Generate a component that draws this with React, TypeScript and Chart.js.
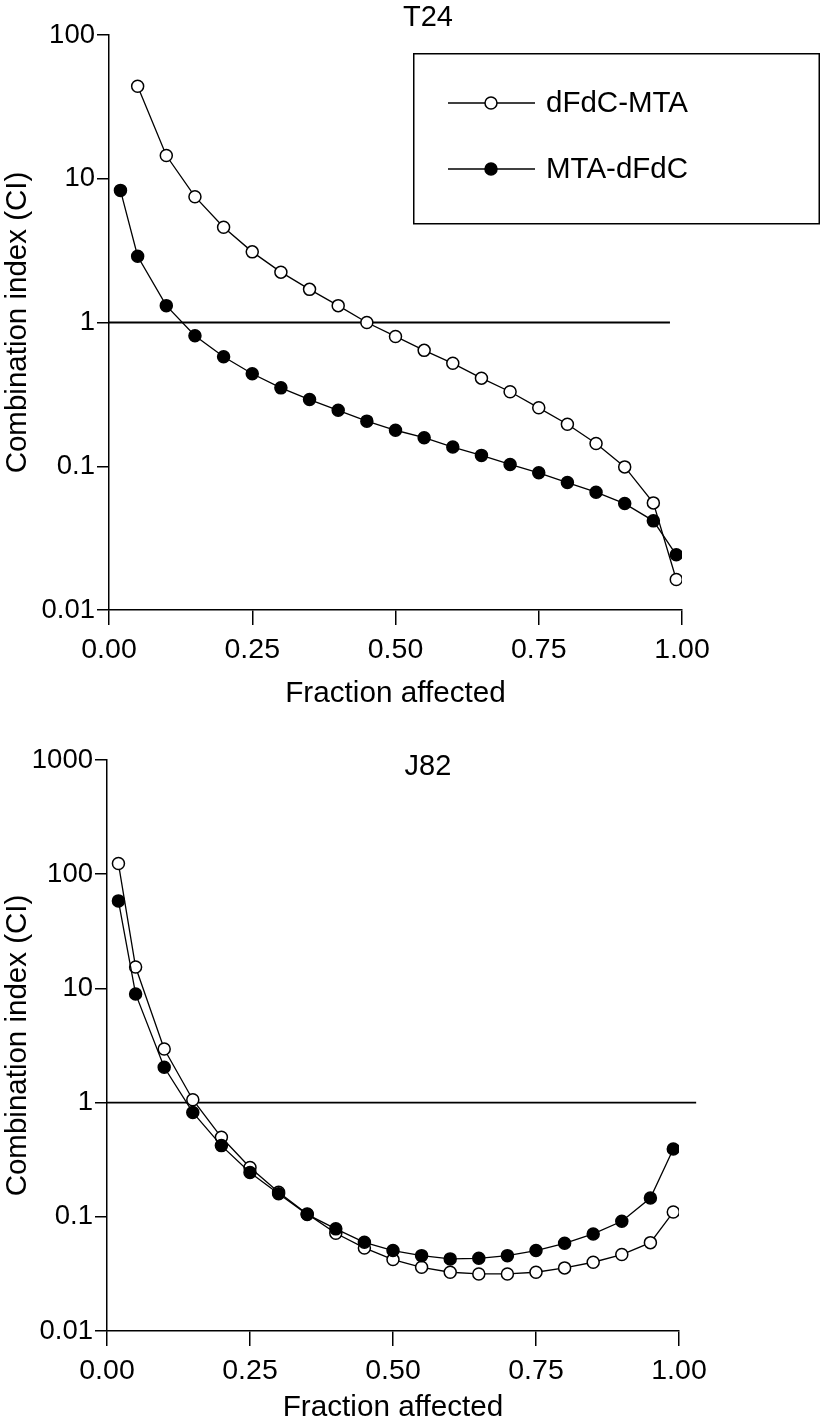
import React, { useEffect, useRef } from 'react';
import { Chart, registerables } from 'chart.js';

Chart.register(...registerables);

const FONT = '"Liberation Sans", Arial, Helvetica, sans-serif';

// ---------- data ----------
const xTicks = [0, 0.25, 0.5, 0.75, 1];
const xTickLabels = ['0.00', '0.25', '0.50', '0.75', '1.00'];

const seriesNames = ['dFdC-MTA', 'MTA-dFdC'];
const panelTitles = ['T24', 'J82'];
const xAxisTitle = 'Fraction affected';
const yAxisTitle = 'Combination index (CI)';

// T24 panel
const t24OpenFa = [0.05, 0.1, 0.15, 0.2, 0.25, 0.3, 0.35, 0.4, 0.45, 0.5, 0.55, 0.6, 0.65, 0.7, 0.75, 0.8, 0.85, 0.9, 0.95, 0.99];
const t24OpenCI = [44, 14.5, 7.5, 4.6, 3.1, 2.24, 1.7, 1.31, 1.0, 0.8, 0.64, 0.52, 0.41, 0.33, 0.255, 0.196, 0.144, 0.099, 0.0556, 0.0163];
const t24FilledFa = [0.02, 0.05, 0.1, 0.15, 0.2, 0.25, 0.3, 0.35, 0.4, 0.45, 0.5, 0.55, 0.6, 0.65, 0.7, 0.75, 0.8, 0.85, 0.9, 0.95, 0.99];
const t24FilledCI = [8.3, 2.89, 1.31, 0.81, 0.577, 0.44, 0.351, 0.291, 0.245, 0.206, 0.178, 0.158, 0.136, 0.119, 0.103, 0.09, 0.077, 0.066, 0.055, 0.0417, 0.0242];
const t24YTicks = [0.01, 0.1, 1, 10, 100];
const t24YLabels = ['0.01', '0.1', '1', '10', '100'];
const t24RefLineX = [0, 0.979];

// J82 panel
const j82Fa = [0.02, 0.05, 0.1, 0.15, 0.2, 0.25, 0.3, 0.35, 0.4, 0.45, 0.5, 0.55, 0.6, 0.65, 0.7, 0.75, 0.8, 0.85, 0.9, 0.95, 0.99];
const j82OpenCI = [124, 15.4, 2.95, 1.06, 0.497, 0.27, 0.164, 0.106, 0.0718, 0.0534, 0.0422, 0.0361, 0.0327, 0.0316, 0.0316, 0.0327, 0.0357, 0.04, 0.0467, 0.0594, 0.11];
const j82FilledCI = [58.4, 8.95, 2.04, 0.82, 0.42, 0.244, 0.159, 0.105, 0.0784, 0.0598, 0.0506, 0.0457, 0.0428, 0.0433, 0.0457, 0.0506, 0.0586, 0.0708, 0.0914, 0.146, 0.393];
const j82YTicks = [0.01, 0.1, 1, 10, 100, 1000];
const j82YLabels = ['0.01', '0.1', '1', '10', '100', '1000'];
const j82RefLineX = [0, 1.03];

const refLineY = 1;

// ---------- helpers ----------
const pts = (xs: number[], ys: number[]) => xs.map((x, i) => ({ x, y: ys[i] }));

type PanelOpts = {
  title: string;
  titleX: number;
  titleY: number;
  legend: boolean;
  yTicks: number[];
  yLabels: string[];
  yMax: number;
  openFa: number[];
  openCI: number[];
  filledFa: number[];
  filledCI: number[];
  refX: number[];
  refWidth: number;
  yW: number;
  xH: number;
  xTitlePad: number;
  padding: { left: number; top: number; right: number; bottom: number };
};

function overlayPlugin(o: PanelOpts) {
  return {
    id: 'overlay' + o.title,
    afterDraw(chart: any) {
      const ctx = chart.ctx as CanvasRenderingContext2D;
      ctx.save();
      ctx.fillStyle = '#000';
      ctx.strokeStyle = '#000';
      ctx.font = `29px ${FONT}`;
      ctx.textAlign = 'center';
      ctx.textBaseline = 'middle';
      ctx.fillText(o.title, o.titleX, o.titleY);
      if (o.legend) {
        ctx.lineWidth = 1.5;
        ctx.strokeRect(413.75, 53.75, 405.5, 170);
        const rows = [
          { y: 103, fill: '#fff', name: seriesNames[0] },
          { y: 169, fill: '#000', name: seriesNames[1] },
        ];
        rows.forEach((r) => {
          ctx.lineWidth = 1.3;
          ctx.beginPath();
          ctx.moveTo(448, r.y);
          ctx.lineTo(535, r.y);
          ctx.stroke();
          ctx.beginPath();
          ctx.arc(491, r.y, 6, 0, Math.PI * 2);
          ctx.fillStyle = r.fill;
          ctx.fill();
          ctx.lineWidth = 1.5;
          ctx.stroke();
          ctx.fillStyle = '#000';
          ctx.textAlign = 'left';
          ctx.font = `29.5px ${FONT}`;
          ctx.fillText(r.name, 546, r.y + 1);
        });
      }
      ctx.restore();
    },
  };
}

function makeConfig(o: PanelOpts): any {
  const lineDs = (label: string, data: any[], fill: string) => ({
    label,
    data,
    borderColor: '#000',
    borderWidth: 1.3,
    pointRadius: 6,
    pointBorderWidth: 1.5,
    pointBackgroundColor: fill,
    pointBorderColor: '#000',
    tension: 0,
    fill: false,
  });
  return {
    type: 'line',
    data: {
      datasets: [
        lineDs(seriesNames[1], pts(o.filledFa, o.filledCI), '#000'),
        lineDs(seriesNames[0], pts(o.openFa, o.openCI), '#fff'),
        {
          label: 'CI = 1',
          data: o.refX.map((x) => ({ x, y: refLineY })),
          borderColor: '#000',
          borderWidth: o.refWidth,
          pointRadius: 0,
          clip: false,
          fill: false,
        },
      ],
    },
    options: {
      responsive: false,
      animation: false,
      events: [],
      layout: { padding: o.padding },
      plugins: { legend: { display: false }, tooltip: { enabled: false }, title: { display: false } },
      scales: {
        x: {
          type: 'linear',
          min: 0,
          max: 1,
          afterBuildTicks: (s: any) => {
            s.ticks = xTicks.map((v) => ({ value: v }));
          },
          afterFit: (s: any) => {
            s.height = o.xH;
          },
          ticks: {
            autoSkip: false,
            maxRotation: 0,
            color: '#000',
            padding: 8,
            font: { size: 28.5, family: FONT },
            callback: (v: number) => xTickLabels[xTicks.indexOf(v)] ?? '',
          },
          grid: { drawOnChartArea: false, drawTicks: true, tickLength: 15, color: '#000', lineWidth: 1.5 },
          border: { display: true, color: '#000', width: 1.5 },
          title: {
            display: true,
            text: xAxisTitle,
            color: '#000',
            font: { size: 29.7, family: FONT },
            padding: { top: 0, bottom: o.xTitlePad },
          },
        },
        y: {
          type: 'logarithmic',
          min: 0.01,
          max: o.yMax,
          afterBuildTicks: (s: any) => {
            s.ticks = o.yTicks.map((v) => ({ value: v }));
          },
          afterFit: (s: any) => {
            s.width = o.yW;
          },
          ticks: {
            autoSkip: false,
            color: '#000',
            padding: 2,
            font: { size: 27.5, family: FONT },
            callback: (v: number) => o.yLabels[o.yTicks.indexOf(v)] ?? '',
          },
          grid: { drawOnChartArea: false, drawTicks: true, tickLength: 12, color: '#000', lineWidth: 1.5 },
          border: { display: true, color: '#000', width: 1.5 },
          title: {
            display: true,
            text: yAxisTitle,
            color: '#000',
            font: { size: 29.5, family: FONT },
            padding: { top: 0, bottom: 0 },
          },
        },
      },
    },
    plugins: [overlayPlugin(o)],
  };
}

const topPanel: PanelOpts = {
  title: panelTitles[0],
  titleX: 428,
  titleY: 18,
  legend: true,
  yTicks: t24YTicks,
  yLabels: t24YLabels,
  yMax: 100,
  openFa: t24OpenFa,
  openCI: t24OpenCI,
  filledFa: t24FilledFa,
  filledCI: t24FilledCI,
  refX: t24RefLineX,
  refWidth: 2.2,
  yW: 109,
  xH: 103,
  xTitlePad: 1,
  padding: { left: 0, top: 35, right: 139, bottom: 0 },
};

const bottomPanel: PanelOpts = {
  title: panelTitles[1],
  titleX: 428,
  titleY: 54,
  legend: false,
  yTicks: j82YTicks,
  yLabels: j82YLabels,
  yMax: 1000,
  openFa: j82Fa,
  openCI: j82OpenCI,
  filledFa: j82Fa,
  filledCI: j82FilledCI,
  refX: j82RefLineX,
  refWidth: 1.6,
  yW: 107,
  xH: 95,
  xTitlePad: 0,
  padding: { left: 0, top: 47, right: 142, bottom: 0 },
};

function Panel({ opts, top }: { opts: PanelOpts; top: number }) {
  const ref = useRef<HTMLCanvasElement>(null);
  useEffect(() => {
    if (!ref.current) return;
    const chart = new Chart(ref.current, makeConfig(opts));
    return () => chart.destroy();
  }, [opts]);
  return (
    <canvas
      ref={ref}
      width={821}
      height={713}
      style={{ position: 'absolute', left: 0, top, width: 821, height: 713, display: 'block' }}
    />
  );
}

export default function App() {
  return (
    <div style={{ position: 'absolute', left: 0, top: 0, width: 821, height: 1426, background: '#fff' }}>
      <Panel opts={topPanel} top={0} />
      <Panel opts={bottomPanel} top={713} />
    </div>
  );
}
